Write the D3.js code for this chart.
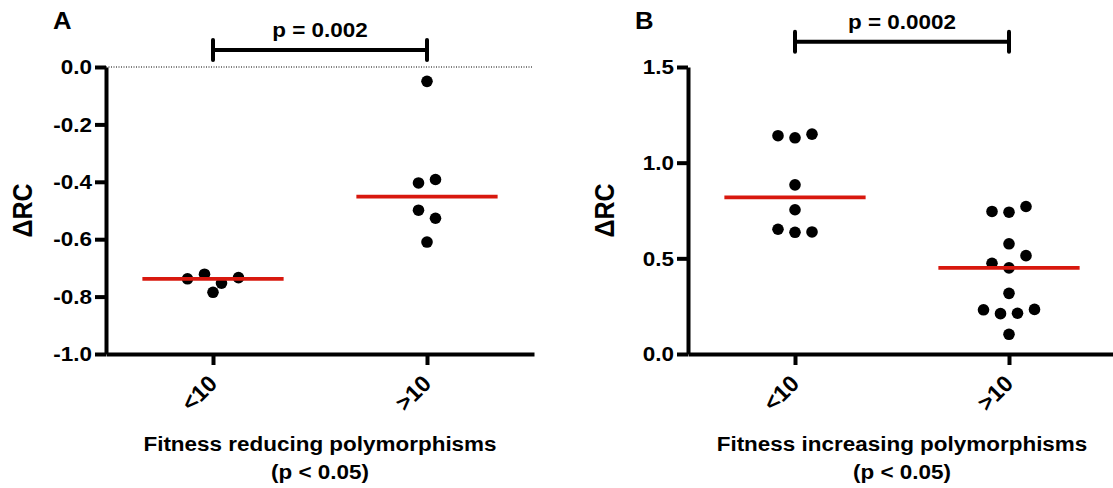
<!DOCTYPE html>
<html>
<head>
<meta charset="utf-8">
<script src="https://cdn.jsdelivr.net/npm/d3@7"></script>
<style>
  body { margin: 0; background: #fff; }
  svg { display: block; background: #fff; }
  text { font-family: "Liberation Sans", Arial, sans-serif; font-weight: bold; fill: #000; }
</style>
</head>
<body>
<div id="container"></div>
<script>
// values
var groups = ["<10", ">10"];
var reducingLow = [-0.738, -0.722, -0.753, -0.734, -0.785];
var reducingHigh = [-0.050, -0.404, -0.392, -0.499, -0.527, -0.610];
var increasingLow = [1.141, 1.130, 1.149, 0.884, 0.754, 0.652, 0.636, 0.638];
var increasingHigh = [0.745, 0.741, 0.771, 0.576, 0.474, 0.450, 0.514, 0.317, 0.231, 0.211, 0.213, 0.233, 0.103];
var reducingTicks = [0, -0.2, -0.4, -0.6, -0.8, -1.0];
var increasingTicks = [0, 0.5, 1.0, 1.5];
var reducingTitle = ["Fitness reducing polymorphisms", "(p < 0.05)"];
var increasingTitle = ["Fitness increasing polymorphisms", "(p < 0.05)"];
var pReducing = "p = 0.002";
var pIncreasing = "p = 0.0002";
var yLabel = "\u0394RC";

var width = 1113, height = 488;
var stretch = 1.07;   // the figure's lettering is slightly widened
var red = "#d8180e";

var svg = d3.select("#container")
  .append("svg")
    .attr("width", width)
    .attr("height", height);

// prism-like column scatter: points at near equal heights share a row
function swarm(values, y) {
  var order = values.map(function(v, i) { return i; })
    .sort(function(a, b) { return y(values[a]) - y(values[b]); });
  var bins = [], current = [order[0]];
  for (var k = 1; k < order.length; k++) {
    if (Math.abs(y(values[order[k]]) - y(values[order[k - 1]])) < 8.6) {
      current.push(order[k]);
    } else {
      bins.push(current);
      current = [order[k]];
    }
  }
  bins.push(current);
  var dx = [];
  bins.forEach(function(bin) {
    bin.sort(function(a, b) { return a - b; });
    bin.forEach(function(idx, j) { dx[idx] = (j - (bin.length - 1) / 2) * 17; });
  });
  return values.map(function(v, i) { return { value: v, dx: dx[i] }; });
}

function drawPanel(p) {
  var top = 67, bottom = 354, plotW = 428;
  var g = svg.append("g");
  var x = d3.scalePoint()
    .domain(groups)
    .range([p.left, p.left + plotW])
    .padding(0.5);
  var y = d3.scaleLinear()
    .domain(p.domain)
    .range([bottom, top]);

  // zero reference
  if (p.zeroLine) {
    g.append("line")
      .attr("x1", p.left).attr("x2", p.left + plotW - 2)
      .attr("y1", y(0)).attr("y2", y(0))
      .attr("stroke", "#000")
      .attr("stroke-width", 1)
      .attr("stroke-dasharray", "1,1.5");
  }

  var yAxis = d3.axisLeft(y)
    .tickValues(p.ticks)
    .tickSize(11)
    .tickSizeOuter(0)
    .tickPadding(3)
    .tickFormat(function(d) { return d.toFixed(1); });
  var yAxisGroup = g.append("g")
    .attr("transform", "translate(" + p.left + ",0)")
    .call(yAxis)
    .attr("font-family", null)
    .attr("font-size", 21);
  yAxisGroup.selectAll("text")
    .attr("x", -14 / stretch)
    .attr("transform", "scale(" + stretch + ",1)");

  var xAxis = d3.axisBottom(x)
    .tickSize(11)
    .tickSizeOuter(0);
  var xAxisGroup = g.append("g")
    .attr("transform", "translate(0," + bottom + ")")
    .call(xAxis)
    .attr("font-family", null)
    .attr("font-size", 23);
  xAxisGroup.selectAll("text")
    .attr("y", 0)
    .attr("dy", null)
    .attr("text-anchor", "end")
    .attr("transform", "translate(5,31) rotate(-45)");

  g.selectAll(".domain, .tick line")
    .attr("stroke", "#000")
    .attr("stroke-width", 4);

  // points and medians
  p.series.forEach(function(values, i) {
    var cx = x(groups[i]);
    g.selectAll(".dot" + i)
      .data(swarm(values, y))
      .enter().append("circle")
        .attr("cx", function(d) { return cx + d.dx; })
        .attr("cy", function(d) { return y(d.value); })
        .attr("r", 5.8)
        .attr("fill", "#000");
    var half = x.step() * 0.33;
    g.append("line")
      .attr("x1", cx - half).attr("x2", cx + half)
      .attr("y1", y(d3.median(values))).attr("y2", y(d3.median(values)))
      .attr("stroke", red)
      .attr("stroke-width", 3.8);
  });

  // significance bracket
  var x0 = x(groups[0]), x1 = x(groups[1]);
  g.append("line")
    .attr("x1", x0).attr("x2", x1)
    .attr("y1", p.bracketY).attr("y2", p.bracketY)
    .attr("stroke", "#000").attr("stroke-width", 4);
  [x0, x1].forEach(function(cx) {
    g.append("line")
      .attr("x1", cx).attr("x2", cx)
      .attr("y1", p.bracketY - 10).attr("y2", p.bracketY + 10)
      .attr("stroke", "#000").attr("stroke-width", 4)
      .attr("stroke-linecap", "round");
  });
  g.append("text")
    .attr("transform", "translate(" + ((x0 + x1) / 2) + "," + (p.bracketY - 13) + ") scale(" + stretch + ",1)")
    .attr("text-anchor", "middle")
    .attr("font-size", 21)
    .text(p.pText);

  // panel letter
  g.append("text")
    .attr("transform", "translate(" + (p.left - 53) + ",28.5) scale(" + stretch + ",1)")
    .attr("font-size", 24)
    .text(p.letter);

  // y title
  g.append("text")
    .attr("transform", "translate(" + (p.left - 74.3) + "," + ((top + bottom) / 2) + ") scale(" + stretch + ",1) rotate(-90)")
    .attr("text-anchor", "middle")
    .attr("font-size", 25)
    .text(yLabel);

  // x title
  p.title.forEach(function(line, i) {
    g.append("text")
      .attr("transform", "translate(" + (p.left + plotW / 2) + "," + (451 + i * 27.5) + ") scale(" + stretch + ",1)")
      .attr("text-anchor", "middle")
      .attr("font-size", 21)
      .text(line);
  });
}

drawPanel({
  left: 106,
  letter: "A",
  domain: [-1, 0],
  ticks: reducingTicks,
  series: [reducingLow, reducingHigh],
  zeroLine: true,
  bracketY: 50,
  pText: pReducing,
  title: reducingTitle
});

drawPanel({
  left: 688,
  letter: "B",
  domain: [0, 1.5],
  ticks: increasingTicks,
  series: [increasingLow, increasingHigh],
  zeroLine: false,
  bracketY: 41.7,
  pText: pIncreasing,
  title: increasingTitle
});
</script>
</body>
</html>
